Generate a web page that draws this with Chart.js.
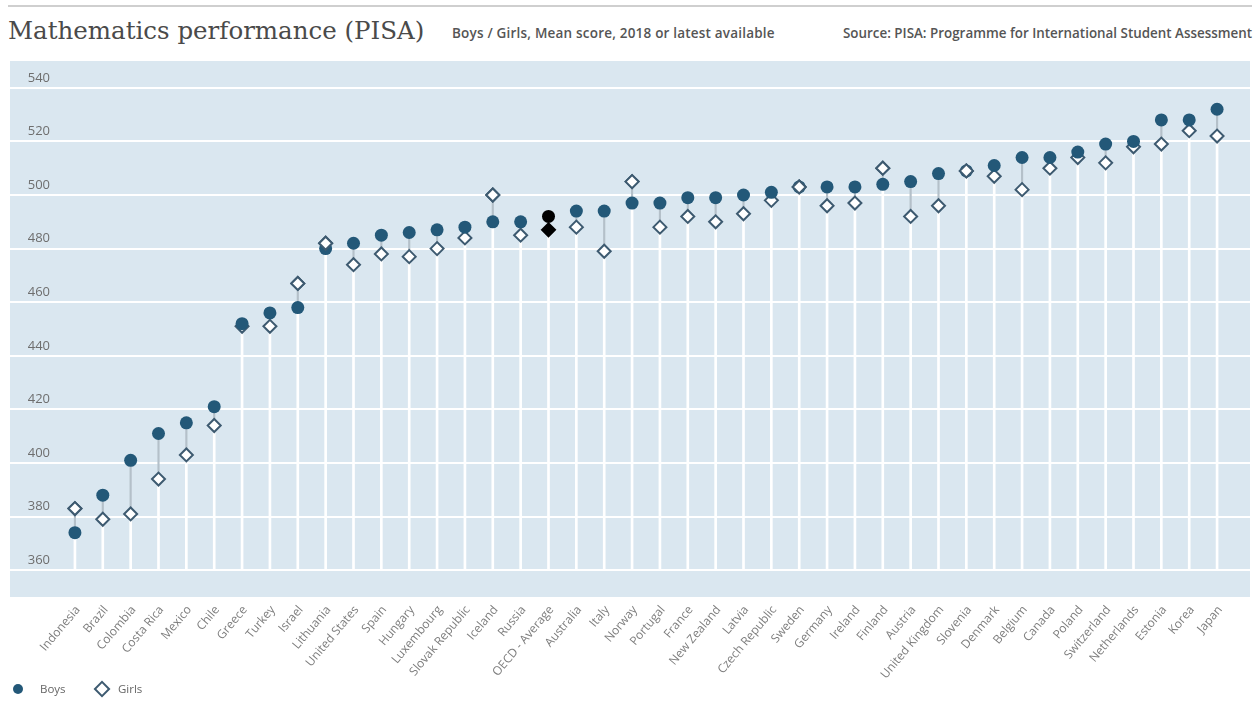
<!DOCTYPE html>
<html>
<head>
<meta charset="utf-8">
<title>Mathematics performance (PISA)</title>
<script src="https://cdn.jsdelivr.net/npm/chart.js@4.4.1/dist/chart.umd.min.js"></script>
<style>
  html, body { margin: 0; padding: 0; background: #fff; }
  #wrap { position: relative; width: 1259px; height: 706px; overflow: hidden; }
  #topline { position: absolute; left: 8px; top: 5px; width: 1244px; border-top: 2px solid #cfcfcf; }
  .hd { position: absolute; white-space: nowrap; color: #555; }
  #title { left: 8px; top: 16px; font-family: "DejaVu Serif", serif; font-size: 24.5px; color: #4a4a4a; }
  #sub { left: 452px; top: 24px; font-family: "Open Sans", sans-serif; font-size: 13.5px; font-weight: 600; letter-spacing: 0.2px; }
  #src { left: 843px; top: 24px; font-family: "Open Sans", sans-serif; font-size: 13.4px; font-weight: 600; }
  #chartBox { position: absolute; left: 0; top: 0; width: 1259px; height: 706px; }
  #legend { position: absolute; left: 0; top: 681px; font-family: "Open Sans", sans-serif; font-size: 11.5px; color: #666; }
  .item { position: absolute; top: 0; white-space: nowrap; }
  .dot { position: absolute; width: 10px; height: 10px; border-radius: 50%; background: #235878; top: 3px; }
  .dia { position: absolute; width: 8px; height: 8px; border: 2px solid #3d5a70; background: #fff; transform: rotate(45deg); top: 2px; }
</style>
</head>
<body>
<div id="wrap">
  <div id="topline"></div>
  <div class="hd" id="title">Mathematics performance (PISA)</div>
  <div class="hd" id="sub">Boys / Girls, Mean score, 2018 or latest available</div>
  <div class="hd" id="src">Source: PISA: Programme for International Student Assessment</div>
  <div id="chartBox"><canvas id="chart"></canvas></div>
  <div id="legend">
    <div class="item" style="left:13px"><span class="dot" style="left:0"></span><span style="position:absolute;left:27px">Boys</span></div>
    <div class="item" style="left:96px"><span class="dia" style="left:0"></span><span style="position:absolute;left:22px">Girls</span></div>
  </div>
</div>
<script>
const countries = ["Indonesia", "Brazil", "Colombia", "Costa Rica", "Mexico", "Chile", "Greece", "Turkey", "Israel",
  "Lithuania", "United States", "Spain", "Hungary", "Luxembourg", "Slovak Republic", "Iceland", "Russia",
  "OECD - Average", "Australia", "Italy", "Norway", "Portugal", "France", "New Zealand", "Latvia", "Czech Republic",
  "Sweden", "Germany", "Ireland", "Finland", "Austria", "United Kingdom", "Slovenia", "Denmark", "Belgium", "Canada",
  "Poland", "Switzerland", "Netherlands", "Estonia", "Korea", "Japan"];

const boys = [374, 388, 401, 411, 415, 421, 452, 456, 458,
  480, 482, 485, 486, 487, 488, 490, 490,
  492, 494, 494, 497, 497, 499, 499, 500, 501,
  503, 503, 503, 504, 505, 508, 509, 511, 514, 514,
  516, 519, 520, 528, 528, 532];

const girls = [383, 379, 381, 394, 403, 414, 451, 451, 467,
  482, 474, 478, 477, 480, 484, 500, 485,
  487, 488, 479, 505, 488, 492, 490, 493, 498,
  503, 496, 497, 510, 492, 496, 509, 507, 502, 510,
  514, 512, 518, 519, 524, 522];

const yTicks = [360, 380, 400, 420, 440, 460, 480, 500, 520, 540];
const stemBase = 360;

const boysColor = "#235878";
const girlsColor = "#3d5a70";
const avgName = "OECD - Average";

// white stems from the 360 line up to the lower marker, grey link between the two markers
const stems = boys.map((b, i) => [stemBase, Math.min(b, girls[i])]);
const links = boys.map((b, i) => [Math.min(b, girls[i]), Math.max(b, girls[i])]);

const plotBg = {
  id: "plotBg",
  beforeDraw(chart) {
    const { ctx, chartArea, scales } = chart;
    const left = 10, right = 1250;
    ctx.save();
    ctx.fillStyle = "#dae7f0";
    ctx.fillRect(left, chartArea.top, right - left, chartArea.bottom - chartArea.top);
    ctx.strokeStyle = "#ffffff";
    ctx.lineWidth = 2;
    yTicks.forEach(v => {
      const py = Math.round(scales.y.getPixelForValue(v));
      ctx.beginPath();
      ctx.moveTo(left, py);
      ctx.lineTo(right, py);
      ctx.stroke();
    });
    ctx.restore();
  }
};

// the higher marker of each pair sits on top: redraw girls points that are >= boys
const girlsOnTop = {
  id: "girlsOnTop",
  afterDatasetsDraw(chart) {
    const meta = chart.getDatasetMeta(1);
    const ctx = chart.ctx;
    girls.forEach((g, i) => {
      if (g >= boys[i]) meta.data[i].draw(ctx, chart.chartArea);
    });
  }
};

new Chart(document.getElementById("chart"), {
  data: {
    labels: countries,
    datasets: [
      {
        type: "line",
        label: "Boys",
        data: boys,
        showLine: false,
        pointStyle: "circle",
        pointRadius: 6.5,
        pointBorderWidth: 0,
        pointBackgroundColor: countries.map(c => c === avgName ? "#000" : boysColor),
        pointBorderColor: countries.map(c => c === avgName ? "#000" : boysColor),
        order: 0
      },
      {
        type: "line",
        label: "Girls",
        data: girls,
        showLine: false,
        pointStyle: "rectRot",
        pointRadius: 6.5,
        pointBorderWidth: 2,
        pointBackgroundColor: countries.map(c => c === avgName ? "#000" : "#fff"),
        pointBorderColor: countries.map(c => c === avgName ? "#000" : girlsColor),
        order: 1
      },
      {
        type: "bar",
        label: "link",
        data: links,
        backgroundColor: "#b4c0c9",
        barThickness: 1.5,
        grouped: false,
        order: 2
      },
      {
        type: "bar",
        label: "stem",
        data: stems,
        backgroundColor: "#ffffff",
        barThickness: 2,
        grouped: false,
        order: 3
      }
    ]
  },
  options: {
    responsive: true,
    maintainAspectRatio: false,
    animation: false,
    layout: { padding: { top: 61, left: 0, right: 28, bottom: 0 } },
    plugins: {
      legend: { display: false },
      tooltip: { enabled: false }
    },
    scales: {
      x: {
        offset: true,
        grid: { display: false, drawTicks: false },
        border: { display: false },
        afterFit: s => { s.height = 109; },
        ticks: {
          autoSkip: false,
          maxRotation: 50,
          minRotation: 50,
          padding: 6,
          labelOffset: 3,
          color: "#7d7d7d",
          font: { family: "Open Sans", size: 12 }
        }
      },
      y: {
        min: 350,
        max: 550,
        afterBuildTicks: s => { s.ticks = yTicks.map(v => ({ value: v })); },
        afterFit: s => { s.width = 61; },
        grid: { display: false, drawTicks: false },
        border: { display: false },
        ticks: {
          padding: 11,
          labelOffset: -10,
          color: "#6e6e6e",
          font: { family: "Open Sans", size: 13 }
        }
      }
    }
  },
  plugins: [plotBg, girlsOnTop]
});
</script>
</body>
</html>
